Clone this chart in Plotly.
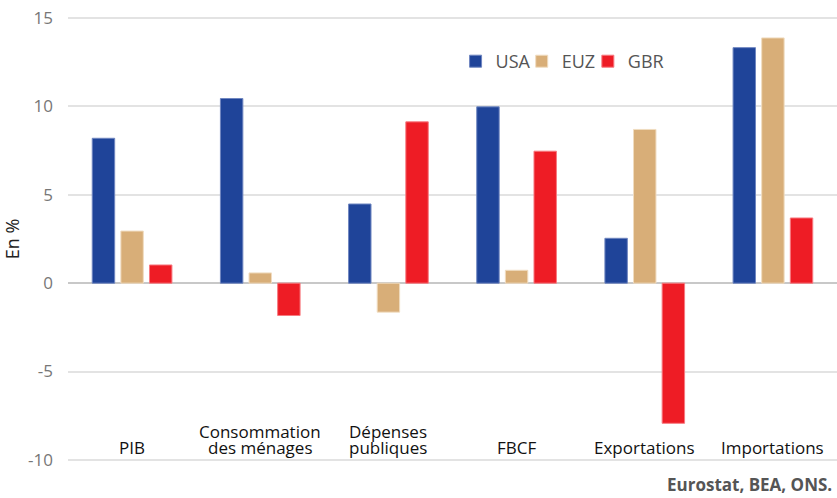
import plotly.graph_objects as go

categories = ["PIB", "Consommation<br>des ménages", "Dépenses<br>publiques", "FBCF", "Exportations", "Importations"]
usa = [8.2, 10.45, 4.48, 9.98, 2.54, 13.33]
euz = [2.95, 0.58, -1.64, 0.73, 8.7, 13.88]
gbr = [1.03, -1.83, 9.13, 7.47, -7.93, 3.69]
series_names = ["USA", "EUZ", "GBR"]
colors = ["#1F4499", "#D8AE78", "#EE1C25"]
line_colors = ["#6F86C0", "#F0DCC0", "#F77A80"]
y_ticks = [-10, -5, 0, 5, 10, 15]
source = "Eurostat, BEA, ONS."

FONT = "'Open Sans', Lato, sans-serif"
xs = list(range(len(categories)))
legend_ids = ["legend", "legend2", "legend3"]
legend_x = [0.504, 0.590, 0.676]

fig = go.Figure()
for name, vals, c, lc, lid in zip(series_names, [usa, euz, gbr], colors, line_colors, legend_ids):
    fig.add_trace(go.Bar(x=xs, y=vals, name=name, legend=lid,
                         marker=dict(color=c, line=dict(color=lc, width=1))))

for i, cat in enumerate(categories):
    lines = cat.split("<br>")
    n = len(lines)
    for j, ln in enumerate(lines):
        fig.add_annotation(x=i, y=-10, xref="x", yref="y", text=ln, showarrow=False,
                           yanchor="middle", yshift=12 + 16 * (n - 1 - j),
                           font=dict(family=FONT, size=17, color="#111"), align="center")

fig.add_annotation(x=1, y=0, xref="paper", yref="paper", text="<b>" + source + "</b>",
                   showarrow=False, xanchor="right", yanchor="middle", xshift=-3, yshift=-22,
                   font=dict(family=FONT, size=17, color="#555"))

legend_common = dict(orientation="h", y=0.898, xanchor="left", yanchor="middle",
                     font=dict(family=FONT, size=18, color="#555"), bgcolor="rgba(0,0,0,0)",
                     itemwidth=30)
layout_legends = {lid: dict(x=lx, **legend_common) for lid, lx in zip(legend_ids, legend_x)}

fig.update_layout(
    width=837, height=498,
    margin=dict(l=68, r=0, t=16, b=36),
    plot_bgcolor="white", paper_bgcolor="white",
    barmode="group", bargap=0.33, bargroupgap=0.216,
    font=dict(family=FONT),
    showlegend=True,
    xaxis=dict(range=[-0.5, len(categories) - 0.5], showticklabels=False, showgrid=False,
               zeroline=False, showline=False),
    yaxis=dict(range=[-10.12, 15.12], tickvals=y_ticks, ticktext=[str(v) for v in y_ticks],
               showgrid=True, gridcolor="#E3E3E3", gridwidth=1.5,
               zeroline=True, zerolinecolor="#C8C8C8", zerolinewidth=1.5,
               tickfont=dict(family=FONT, size=17, color="#777"), ticklabelstandoff=14,
               ticklabeloverflow="allow",
               title=dict(text="En %", font=dict(family=FONT, size=18, color="#222"), standoff=8)),
    **layout_legends,
)

fig.write_html("out.html", config={"displayModeBar": False},
               post_script="document.body.style.margin='0';")
